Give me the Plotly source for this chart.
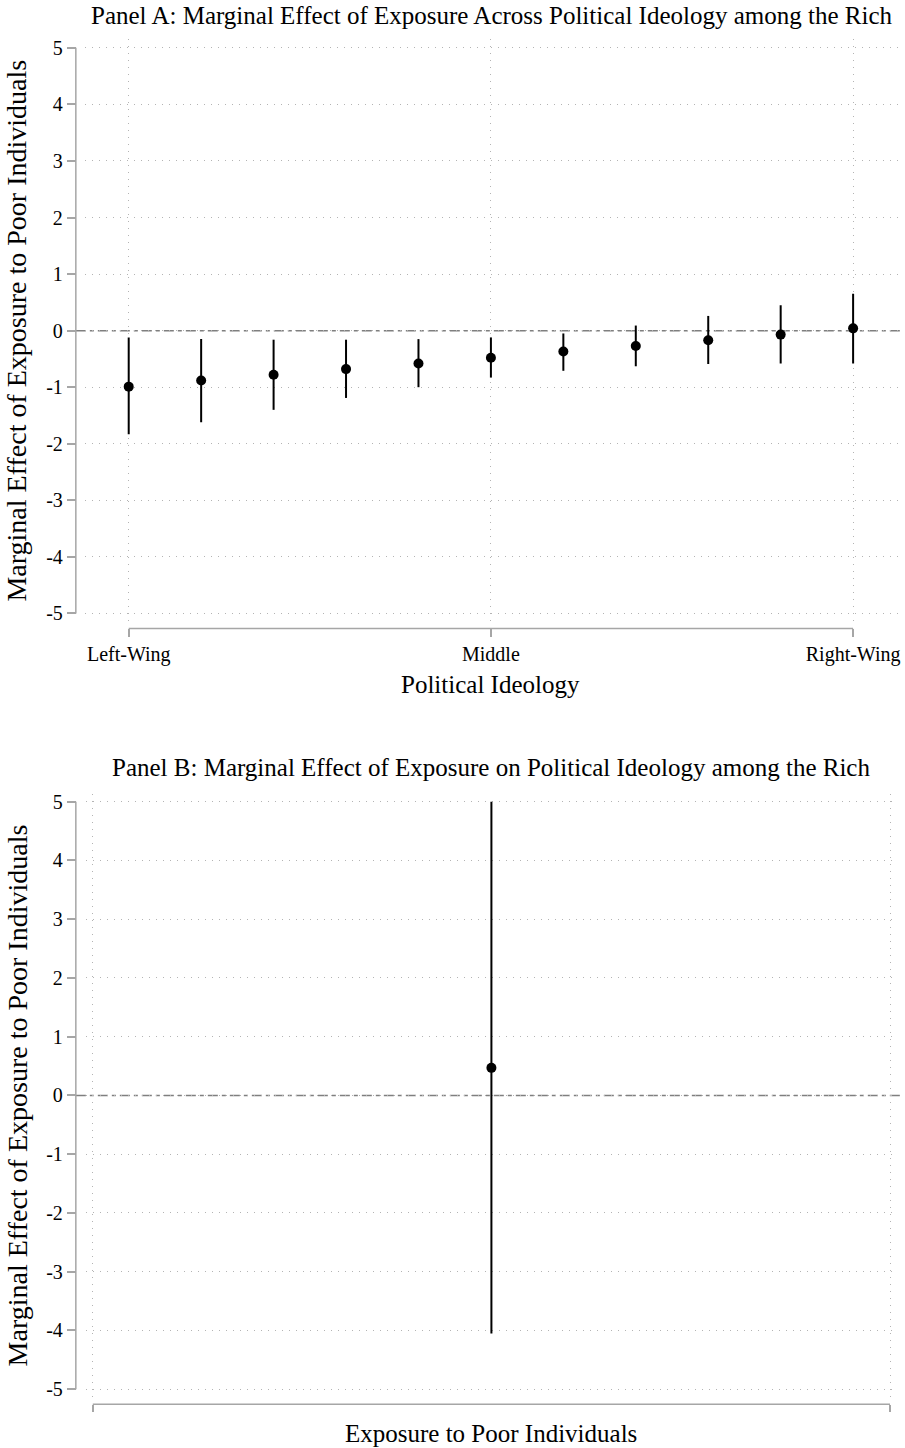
import plotly.graph_objects as go

W, H = 905, 1448

# ---- Data ----
ideology_pos = [0, 1, 2, 3, 4, 5, 6, 7, 8, 9, 10]
effect_a = [-0.99, -0.88, -0.78, -0.68, -0.58, -0.48, -0.37, -0.27, -0.17, -0.07, 0.04]
ci_low_a = [-1.83, -1.62, -1.40, -1.19, -1.00, -0.83, -0.71, -0.63, -0.59, -0.58, -0.58]
ci_high_a = [-0.12, -0.15, -0.16, -0.16, -0.15, -0.12, -0.05, 0.09, 0.26, 0.45, 0.65]
x_tickvals_a = [0, 5, 10]
x_ticktext_a = ["Left-Wing", "Middle", "Right-Wing"]

exposure_pos = [0]
effect_b = [0.47]
ci_low_b = [-4.05]
ci_high_b = [5.0]
x_tickvals_b = [-1, 1]

y_tickvals = [5, 4, 3, 2, 1, 0, -1, -2, -3, -4, -5]
y_ticktext = ["5", "4", "3", "2", "1", "0", "-1", "-2", "-3", "-4", "-5"]

title_a = "Panel A: Marginal Effect of Exposure Across Political Ideology among the Rich"
title_b = "Panel B: Marginal Effect of Exposure on Political Ideology among the Rich"
ytitle = "Marginal Effect of Exposure to Poor Individuals"
xtitle_a = "Political Ideology"
xtitle_b = "Exposure to Poor Individuals"

FONT = "Liberation Serif"
AXC = "#a6a6a6"
GRIDC = "#b4b4b4"
GRIDDASH = "1px,6px"

def px(x):
    return x / W

def py(y):
    return 1 - y / H

fig = go.Figure()

# Panel A
fig.add_trace(go.Scatter(
    x=ideology_pos, y=effect_a, mode="markers",
    marker=dict(color="black", size=10),
    error_y=dict(type="data", symmetric=False,
                 array=[h - e for h, e in zip(ci_high_a, effect_a)],
                 arrayminus=[e - l for e, l in zip(effect_a, ci_low_a)],
                 color="black", thickness=2, width=0),
    xaxis="x", yaxis="y", showlegend=False, cliponaxis=False))

# Panel B
fig.add_trace(go.Scatter(
    x=exposure_pos, y=effect_b, mode="markers",
    marker=dict(color="black", size=10),
    error_y=dict(type="data", symmetric=False,
                 array=[h - e for h, e in zip(ci_high_b, effect_b)],
                 arrayminus=[e - l for e, l in zip(effect_b, ci_low_b)],
                 color="black", thickness=2, width=0),
    xaxis="x2", yaxis="y2", showlegend=False, cliponaxis=False))

# geometry
a_x0, a_x1 = 85, 900
a_y0, a_y1 = 36, 622
b_x0, b_x1 = 86, 899
b_y0, b_y1 = 794, 1400

tickfont = dict(family=FONT, size=20, color="black")
grid = dict(showgrid=True, gridcolor=GRIDC, griddash=GRIDDASH, gridwidth=1)

fig.update_layout(
    width=W, height=H,
    margin=dict(l=0, r=0, t=0, b=0),
    paper_bgcolor="white", plot_bgcolor="white",
    xaxis=dict(domain=[px(a_x0), px(a_x1)], range=[-44 / 72.6, 10 + 45 / 72.6],
               anchor="free", position=py(628),
               tickvals=x_tickvals_a, ticktext=x_ticktext_a,
               ticks="outside", ticklen=8, tickcolor=AXC, tickwidth=1.5,
               showline=False, zeroline=False, tickfont=tickfont, **grid),
    yaxis=dict(domain=[py(a_y1), py(a_y0)], range=[-5 - 9 / 56.8, 5 + 9 / 56.8],
               anchor="free", position=px(76),
               tickvals=y_tickvals, ticktext=y_ticktext,
               ticks="outside", ticklen=9, tickcolor=AXC, tickwidth=1.5,
               showline=False, zeroline=False, tickfont=tickfont, **grid),
    xaxis2=dict(domain=[px(b_x0), px(b_x1)], range=[-1 - 7 / 399.5, 1 + 7 / 399.5],
                anchor="free", position=py(1407),
                tickvals=x_tickvals_b, ticktext=["", ""],
                ticks="outside", ticklen=7, tickcolor=AXC, tickwidth=1.5,
                showline=False, zeroline=False, tickfont=tickfont, **grid),
    yaxis2=dict(domain=[py(b_y1), py(b_y0)], range=[-5 - 8 / 59, 5 + 8 / 59],
                anchor="free", position=px(76),
                tickvals=y_tickvals, ticktext=y_ticktext,
                ticks="outside", ticklen=9, tickcolor=AXC, tickwidth=1.5,
                showline=False, zeroline=False, tickfont=tickfont, **grid),
)

shapes = []
# Axis lines (Stata style, spanning the tick range only)
shapes.append(dict(type="line", xref="paper", yref="y", x0=px(76), x1=px(76),
                   y0=min(y_tickvals), y1=max(y_tickvals), line=dict(color=AXC, width=1.5)))
shapes.append(dict(type="line", xref="x", yref="paper", x0=min(x_tickvals_a), x1=max(x_tickvals_a),
                   y0=py(628), y1=py(628), line=dict(color=AXC, width=1.5)))
shapes.append(dict(type="line", xref="paper", yref="y2", x0=px(76), x1=px(76),
                   y0=min(y_tickvals), y1=max(y_tickvals), line=dict(color=AXC, width=1.5)))
shapes.append(dict(type="line", xref="x2", yref="paper", x0=min(x_tickvals_b), x1=max(x_tickvals_b),
                   y0=py(1407), y1=py(1407), line=dict(color=AXC, width=1.5)))
# zero reference lines
zdash = dict(color="#7f7f7f", width=1.5, dash="10px,4px,4px,4px")
shapes.append(dict(type="line", xref="paper", yref="y", x0=px(76), x1=1, y0=0, y1=0,
                   line=zdash, layer="below"))
shapes.append(dict(type="line", xref="paper", yref="y2", x0=px(76), x1=1, y0=0, y1=0,
                   line=zdash, layer="below"))
fig.update_layout(shapes=shapes)

ann = []
def add_text(text, x, y, size, angle=0):
    ann.append(dict(text=text, xref="paper", yref="paper", x=px(x), y=py(y),
                    showarrow=False, xanchor="center", yanchor="middle", textangle=angle,
                    borderpad=0,
                    font=dict(family=FONT, size=size, color="black")))

add_text(title_a, 493, 13, 25)
add_text(title_b, 492, 768, 25)
add_text(xtitle_a, 492, 684, 25)
add_text(xtitle_b, 492, 1436, 25)
add_text(ytitle, 17, 329, 28, -90)
add_text(ytitle, 17, 1097, 28, -90)
fig.update_layout(annotations=ann)

fig.write_html("out.html", config={"displayModeBar": False},
               post_script="document.body.style.margin='0';document.body.style.overflow='hidden';")
